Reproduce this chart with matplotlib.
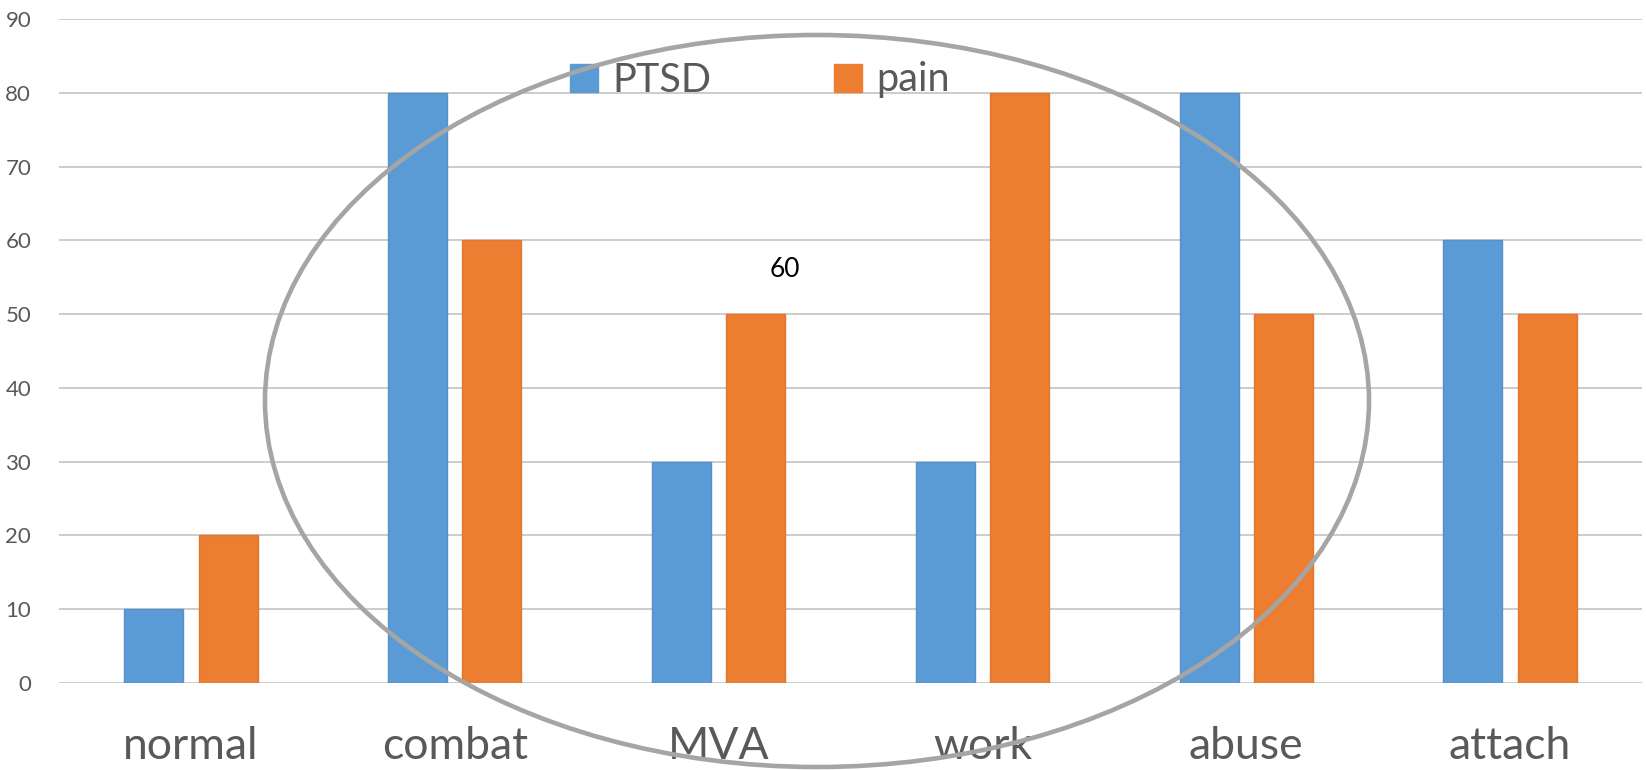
import matplotlib
matplotlib.use("Agg")
import matplotlib.pyplot as plt
from matplotlib.patches import Ellipse, Patch
import numpy as np

categories = ["normal", "combat", "MVA", "work", "abuse", "attach"]
ptsd = [10, 80, 30, 30, 80, 60]
pain = [20, 60, 50, 80, 50, 50]
yticks = [0, 10, 20, 30, 40, 50, 60, 70, 80, 90]
note_text = "60"
note_cat = 2

plt.rcParams['font.family'] = ['Lato', 'DejaVu Sans']

W, H = 1646, 770
fig = plt.figure(figsize=(W / 100, H / 100), dpi=100)
ax = fig.add_axes([59 / W, 1 - 683 / H, 1583 / W, 664 / H])

x = np.arange(len(categories))
bw = 0.224
off = 0.141
blue = "#5B9BD5"
orange = "#ED7D31"
ax.bar(x - off, ptsd, width=bw, color=blue, edgecolor="#5590C8", linewidth=1, zorder=3, label="PTSD")
ax.bar(x + off, pain, width=bw, color=orange, edgecolor="#E0762F", linewidth=1, zorder=3, label="pain")

ax.set_xlim(-0.5, len(categories) - 0.5)
ax.set_ylim(0, 90)
ax.set_yticks(yticks)
ax.set_xticks(x)
ax.set_xticklabels(categories)
ax.grid(axis="y", color="#BFBFBF", linewidth=1.1, zorder=0)
ax.set_axisbelow(True)
for s in ["left", "right", "top", "bottom"]:
    ax.spines[s].set_visible(False)
ax.tick_params(axis="y", length=0, pad=20, labelsize=16, labelcolor="#595959")
ax.tick_params(axis="x", length=0, pad=31, labelsize=32, labelcolor="#595959")

ax.text(note_cat + 0.25, 56, note_text, ha="center", va="center", fontsize=19, color="black", zorder=4)

handles = [Patch(facecolor=blue, edgecolor=blue), Patch(facecolor=orange, edgecolor=orange)]
leg = fig.legend(handles, ["PTSD", "pain"], loc="center", bbox_to_anchor=(760 / W, 1 - 80 / H),
                 ncol=2, frameon=False, fontsize=28.5, handlelength=0.7, handleheight=0.7,
                 handletextpad=0.37, columnspacing=3.1, labelcolor="#595959")

ell = Ellipse((817 / W, 1 - 401 / H), 1104 / W, 732 / H, transform=fig.transFigure,
              fill=False, edgecolor="#A5A5A5", linewidth=3.3, zorder=10, clip_on=False)
fig.add_artist(ell)

fig.savefig("out.png", dpi=100)
